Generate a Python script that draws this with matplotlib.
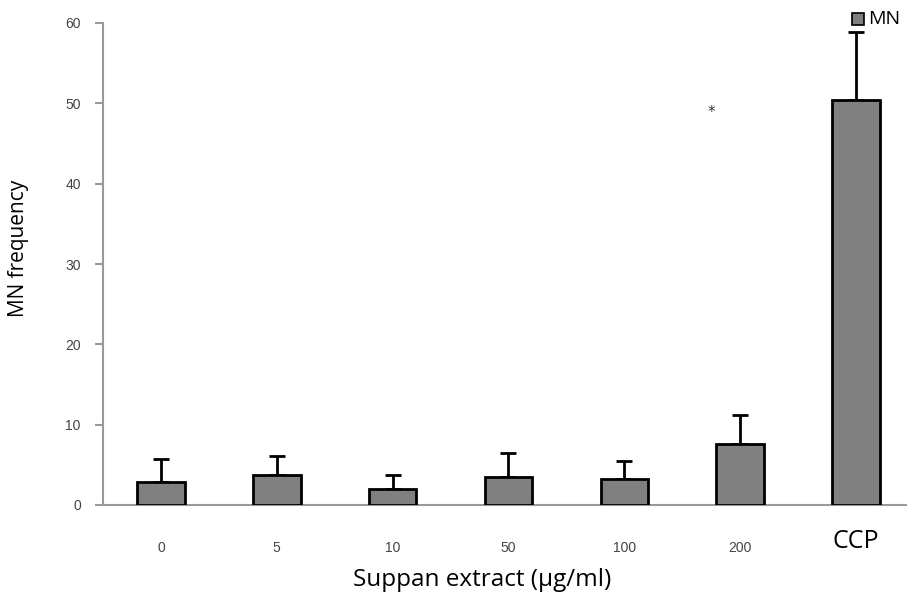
import matplotlib
matplotlib.use("Agg")
import matplotlib.pyplot as plt
from matplotlib.patches import Rectangle

categories = ["0", "5", "10", "50", "100", "200", "CCP"]
values = [2.9, 3.7, 2.0, 3.5, 3.2, 7.6, 50.4]
errors = [2.8, 2.4, 1.7, 3.0, 2.3, 3.6, 8.5]
yticks = [0, 10, 20, 30, 40, 50, 60]
star_x, star_y = 4.75, 48.8

fig = plt.figure(figsize=(9.07, 5.97), dpi=100)
ax = fig.add_axes([103/907, 92/597, 1 - 103/907, 482/597])

x = list(range(len(categories)))
ax.bar(x, values, width=0.41, color="#808080", edgecolor="black", linewidth=2, zorder=3)
ax.errorbar(x, values, yerr=[[0]*len(errors), errors], fmt="none", ecolor="black",
            elinewidth=2, capsize=6, capthick=2, zorder=2)

ax.set_xlim(-0.5, 6.44)
ax.set_ylim(0, 60)
ax.set_yticks(yticks)
ax.set_yticklabels([str(t) for t in yticks], fontsize=10, color="#444444", family="Liberation Sans")
ax.set_xticks(x)
ax.set_xticklabels(categories)
for i, lab in enumerate(ax.get_xticklabels()):
    if categories[i] == "CCP":
        lab.set_fontsize(18)
        lab.set_color("black")
        lab.set_family("Open Sans")
        lab.set_va("center")
        lab.set_y(0.0)
    else:
        lab.set_fontsize(10)
        lab.set_color("#444444")
        lab.set_family("Liberation Sans")
ax.tick_params(axis="x", length=0, pad=26)
ax.tick_params(axis="y", length=6, width=1.5, color="#999999", pad=10)

for s in ["top", "right"]:
    ax.spines[s].set_visible(False)
ax.spines["left"].set_color("#999999")
ax.spines["left"].set_linewidth(1.5)
ax.spines["bottom"].set_color("#999999")
ax.spines["bottom"].set_linewidth(1.5)

fig.text(482/907, 1 - 580/597, "Suppan extract (µg/ml)", fontsize=17.5, family="Open Sans",
         ha="center", va="center")
fig.text(19/907, 1 - 248/597, "MN frequency", fontsize=15, family="Open Sans",
         ha="center", va="center", rotation=90)

ax.text(star_x, star_y, "*", ha="center", va="center", fontsize=11, color="#333333")

# legend
fig.patches.append(Rectangle((852/907, 1 - 25/597), 12/907, 12/597, transform=fig.transFigure,
                             facecolor="#808080", edgecolor="black", linewidth=1.2))
fig.text(868/907, 1 - 19/597, "MN", fontsize=14, family="Open Sans", va="center", ha="left")

fig.savefig("out.png", dpi=100)
